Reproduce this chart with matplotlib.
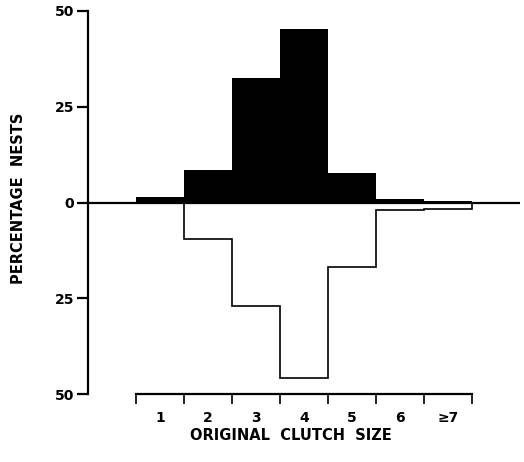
import numpy as np
import matplotlib
matplotlib.use('Agg')
import matplotlib.pyplot as plt

# datos (porcentaje de nidos)
clutch_labels = ['1', '2', '3', '4', '5', '6', '\u22657']
upper_pct = [1.5, 8.6, 32.6, 45.3, 7.8, 0.9, 0.4]   # barras negras
lower_pct = [0.0, 9.4, 27.0, 45.8, 16.9, 2.0, 1.7]  # contorno abajo
ytick_vals = [-50, -25, 0, 25, 50]
ytick_labels = ['50', '25', '0', '25', '50']

plt.rcParams['font.family'] = ['DejaVu Sans']
plt.rcParams['font.weight'] = 'bold'

fig = plt.figure(figsize=(5.24, 4.62), dpi=100)
ax = fig.add_axes([88/524., 68/462., 432/524., 383/462.])

x = np.arange(1, len(clutch_labels) + 1)
edges = np.arange(0.5, len(clutch_labels) + 1.0, 1.0)

ax.bar(x, upper_pct, width=1.0, color='black', linewidth=0)
ax.stairs(-np.array(lower_pct), edges, baseline=0, fill=False,
          color='black', linewidth=1.2)
ax.plot([-0.5, 8.5], [0, 0], color='black', linewidth=1.6, solid_capstyle='butt')

ax.set_xlim(-0.5, 8.5)
ax.set_ylim(-50, 50)

for s in ['top', 'right']:
    ax.spines[s].set_visible(False)
ax.spines['left'].set_linewidth(1.6)
ax.spines['bottom'].set_linewidth(1.6)
ax.spines['bottom'].set_bounds(0.5, 7.5)

ax.set_yticks(ytick_vals)
ax.set_yticklabels(ytick_labels, fontsize=10, fontweight='bold')
ax.tick_params(axis='y', direction='out', length=8, width=1.6, pad=2)

ax.set_xticks(edges)
ax.set_xticklabels([])
ax.set_xticks(x, minor=True)
ax.set_xticklabels(clutch_labels, minor=True, fontsize=10, fontweight='bold')
ax.tick_params(axis='x', which='major', direction='out', length=7, width=1.2)
ax.tick_params(axis='x', which='minor', length=0, pad=12)

fig.text(0.555, 0.058, 'ORIGINAL  CLUTCH  SIZE', ha='center', va='center',
         fontsize=10.5, fontweight='bold')
fig.text(0.036, 0.571, 'PERCENTAGE  NESTS', ha='center', va='center',
         rotation=90, fontsize=10.5, fontweight='bold')

plt.savefig('out.png', dpi=100)
